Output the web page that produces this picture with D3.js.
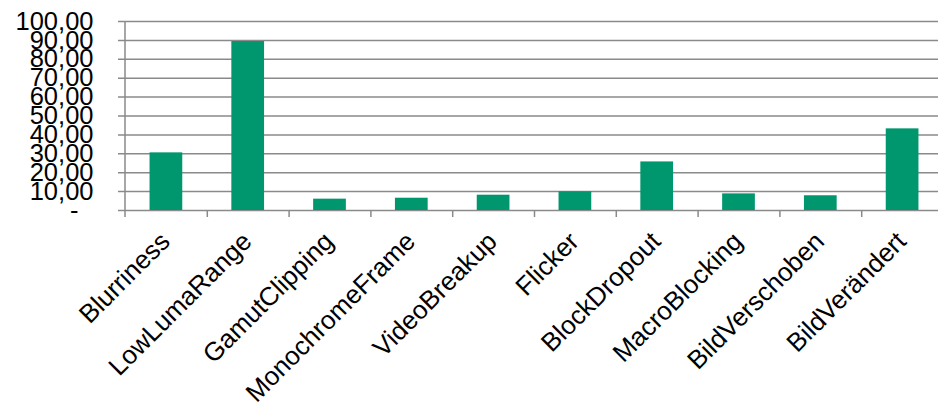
<!DOCTYPE html>
<html>
<head>
<meta charset="utf-8">
<script src="https://cdn.jsdelivr.net/npm/d3@7"></script>
<style>
  body { margin: 0; background: #fff; }
  svg { display: block; font-family: "Liberation Sans", Arial, sans-serif; }
  .grid line, .x-ticks line { stroke: #8a8a8a; stroke-width: 1.5; }
  .grid .domain, .x-ticks .domain { display: none; }
</style>
</head>
<body>
<svg width="938" height="406"></svg>
<script>
  const categories = ['Blurriness', 'LowLumaRange', 'GamutClipping', 'MonochromeFrame', 'VideoBreakup',
    'Flicker', 'BlockDropout', 'MacroBlocking', 'BildVerschoben', 'BildVerändert'];
  const values = [30.5, 89.4, 6.0, 6.5, 8.1, 9.9, 25.7, 8.8, 7.8, 43.2];
  const yTicks = [0, 10, 20, 30, 40, 50, 60, 70, 80, 90, 100];

  const svg = d3.select('svg');
  const margin = { top: 21, right: -5, bottom: 196, left: 125 };
  const width = +svg.attr('width');
  const height = +svg.attr('height');
  const innerWidth = width - margin.left - margin.right;
  const innerHeight = height - margin.top - margin.bottom;
  const tickOut = 7;

  const g = svg.append('g')
    .attr('transform', `translate(${margin.left},${margin.top})`);

  const x = d3.scaleBand()
    .domain(categories)
    .range([0, innerWidth])
    .paddingInner(0.6)
    .paddingOuter(0.3);

  const y = d3.scaleLinear()
    .domain([0, 100])
    .range([innerHeight, 0]);

  const fmt = d => d === 0 ? '-' : d.toFixed(2).replace('.', ',');

  // gridlines + y labels
  const yAxisG = g.append('g')
    .attr('class', 'grid')
    .attr('transform', `translate(${-tickOut},0)`)
    .call(d3.axisLeft(y)
      .tickValues(yTicks)
      .tickSize(-(innerWidth + tickOut))
      .tickPadding(24.5)
      .tickFormat(fmt));

  yAxisG.selectAll('text')
    .attr('fill', '#000')
    .style('font-size', '25.5px')
    .attr('dx', d => d === 0 ? -15 : 0);

  // y axis line
  g.append('line')
    .attr('x1', 0).attr('x2', 0)
    .attr('y1', 0).attr('y2', innerHeight + tickOut)
    .attr('stroke', '#8a8a8a')
    .attr('stroke-width', 1.5);

  // category tick marks at band edges
  const edges = d3.scaleLinear().domain([0, categories.length]).range([0, innerWidth]);
  g.append('g')
    .attr('class', 'x-ticks')
    .attr('transform', `translate(0,${innerHeight})`)
    .call(d3.axisBottom(edges)
      .tickValues(d3.range(1, categories.length + 1))
      .tickSize(tickOut)
      .tickFormat(''));

  // bars
  g.selectAll('rect.bar')
    .data(values)
    .enter().append('rect')
    .attr('class', 'bar')
    .attr('x', (d, i) => x(categories[i]))
    .attr('y', d => y(d))
    .attr('width', x.bandwidth())
    .attr('height', d => innerHeight - y(d))
    .attr('fill', '#00976e');

  // rotated category labels
  g.selectAll('text.cat')
    .data(categories)
    .enter().append('text')
    .attr('class', 'cat')
    .attr('text-anchor', 'end')
    .attr('transform', d => `translate(${x(d) + x.bandwidth() / 2 + 5.5},${innerHeight + 33}) rotate(-45)`)
    .style('font-size', '26px')
    .attr('fill', '#000')
    .text(d => d);
</script>
</body>
</html>
